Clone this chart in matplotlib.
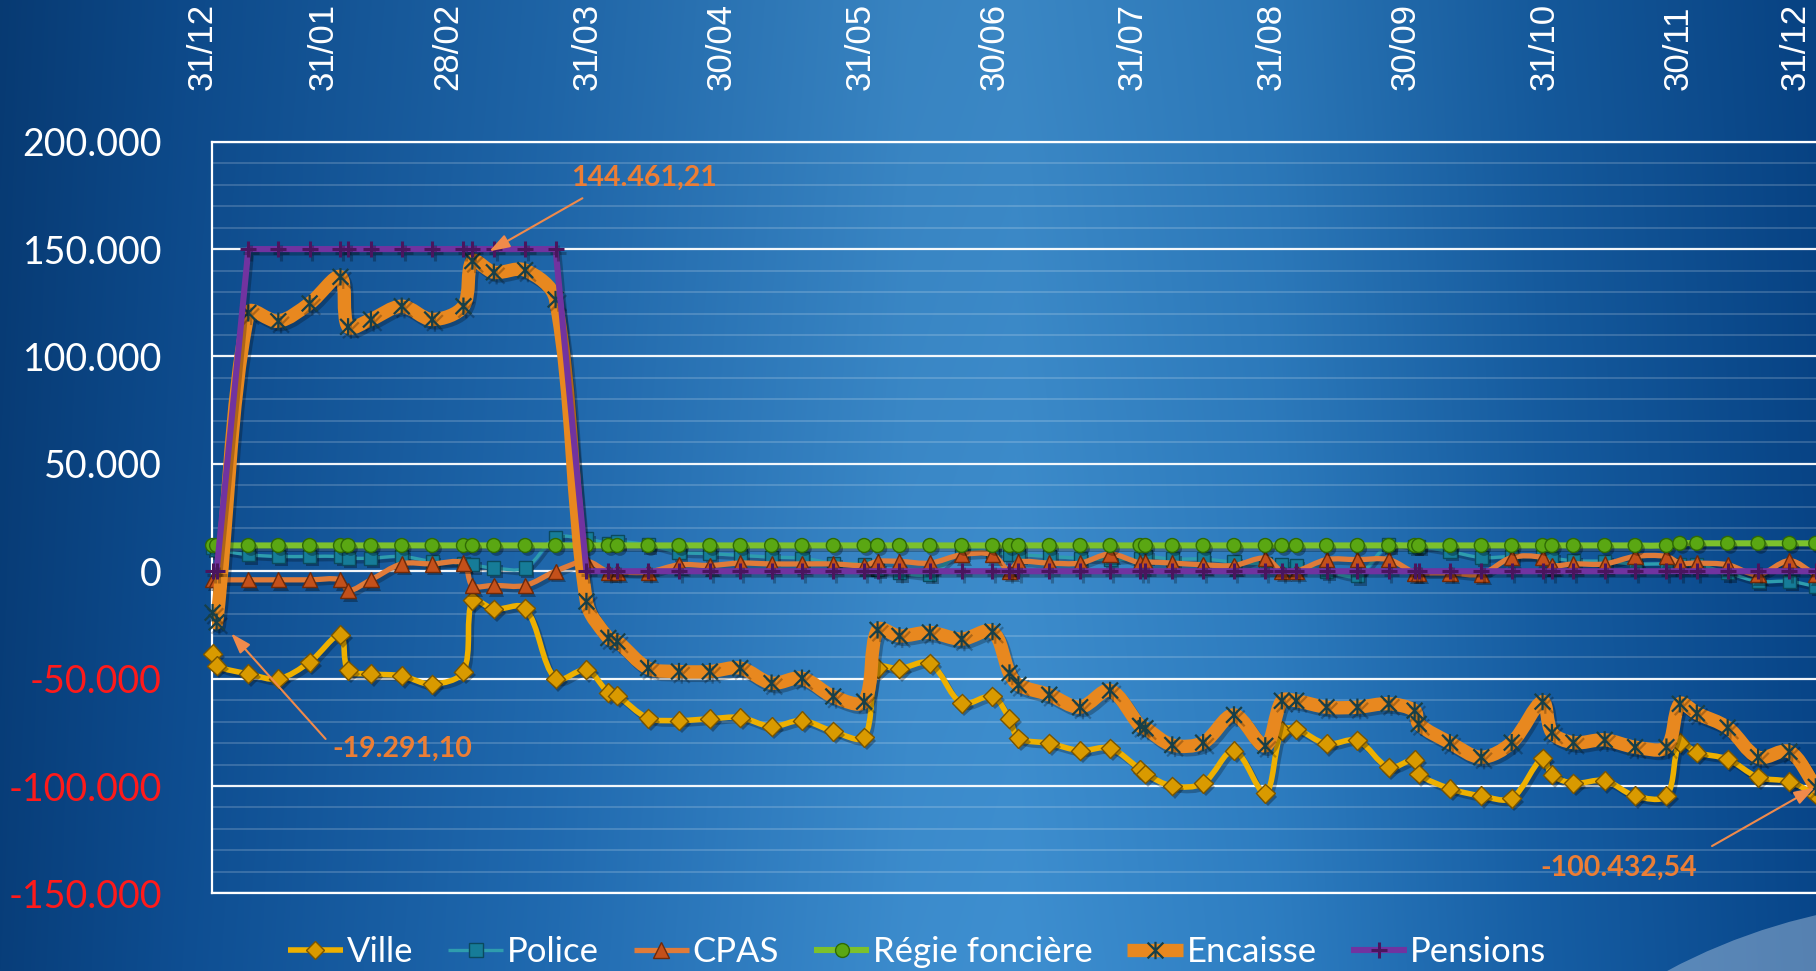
import numpy as np
import matplotlib
matplotlib.use("Agg")
import matplotlib.pyplot as plt
from matplotlib.path import Path
from matplotlib.patches import PathPatch, Ellipse
from matplotlib.lines import Line2D
from matplotlib.ticker import MultipleLocator
import matplotlib.patheffects as pe

# ---------------- data (day offset from 31/12, values in EUR) ----------------
days = [6.3, 7.2, 14.3, 21.0, 28.0, 34.9, 36.6, 41.7, 48.6, 55.4,
        62.4, 64.4, 69.2, 76.2, 83.0, 89.9, 94.8, 96.8, 103.7, 110.6,
        117.5, 124.3, 131.3, 138.1, 145.1, 152.0, 155.0, 159.9, 166.7, 173.8,
        180.7, 184.5, 186.5, 193.4, 200.3, 207.0, 213.7, 214.9, 220.9, 227.8,
        234.7, 241.7, 245.4, 248.6, 255.4, 262.3, 269.3, 275.1, 276.0, 283.0,
        290.0, 296.8, 303.7, 305.8, 310.6, 317.6, 324.4, 331.4, 334.4, 338.2,
        345.1, 351.9, 358.9, 364.8]

ville = [-38400, -43900, -47800, -50100, -42300, -29600, -46200, -47800, -48700, -52600,
         -46700, -13600, -17600, -17200, -50100, -45900, -56500, -57900, -68400, -69500,
         -68700, -68100, -72300, -69500, -74600, -77300, -45100, -45400, -42800, -61400,
         -58300, -68700, -77700, -80100, -83500, -82400, -92200, -94400, -100000, -98700,
         -83500, -103400, -74200, -73500, -80400, -78800, -91300, -87800, -94400, -101200,
         -104600, -105700, -87000, -94800, -98700, -97500, -104600, -104600, -79800, -84400,
         -87500, -95900, -98000, -104000]

police = [11000, 10000, 7700, 6900, 6900, 6900, 6100, 6100, 6900, 4600,
          3800, 3000, 1500, 1500, 15500, 15100, 13100, 13900, 12300, 8900,
          8200, 7400, 6600, 6100, 3800, 3300, 1000, -800, -1300, 9000,
          9000, 7700, 7700, 6900, 6100, 5400, 6100, 6900, 5700, 5700,
          4300, 3400, 3000, 2700, 0, -2000, 12300, 11600, 11600, 9200,
          6400, 6900, 6900, 6100, 4900, 4600, 3400, 3400, 3000, 3000,
          -800, -4700, -4700, -7100]

cpas = [-4000, -4000, -4000, -4000, -4000, -4000, -9100, -4000, 3400, 3400,
        3800, -6600, -6600, -6600, 0, 4600, -400, -400, -400, 3000,
        2700, 3800, 3400, 3400, 3400, 2700, 4600, 4600, 3800, 7700,
        7700, 0, 4300, 3800, 3800, 8000, 3800, 4300, 3800, 3000,
        2700, 6100, 0, 0, 5400, 5400, 5400, -800, -800, -800,
        -1300, 6400, 6400, 2700, 3400, 3400, 6900, 6900, 3800, 3800,
        3000, -1600, 4900, -1600]

regie = [12000, 12000, 12000, 12000, 12000, 12000, 12000, 12000, 12000, 12000,
         12000, 12000, 12000, 12000, 12000, 12000, 12000, 12000, 12000, 12000,
         12000, 12000, 12000, 12000, 12000, 12000, 12000, 12000, 12000, 12000,
         12000, 12000, 12000, 12000, 12000, 12000, 12000, 12000, 12000, 12000,
         12000, 12000, 12000, 12000, 12000, 12000, 12000, 12000, 12000, 12000,
         12000, 12000, 12000, 12000, 12000, 12000, 12000, 12000, 13000, 13000,
         13000, 13000, 13000, 13000]

encaisse = [-19291.10, -23800, 120300, 116400, 124700, 137100, 113800, 117200, 123400, 117200,
            123400, 144461.21, 139200, 140200, 126500, -14100, -31100, -32700, -45100, -46700,
            -46700, -45100, -52100, -49800, -58300, -60700, -27300, -30100, -28500, -31600,
            -28100, -47400, -52900, -57500, -63300, -55500, -72000, -73100, -80900, -79800,
            -66900, -81300, -60300, -60300, -63300, -63300, -61700, -64900, -71100, -79800,
            -86600, -79800, -60700, -75100, -79800, -78500, -81900, -81900, -61700, -66100,
            -72800, -86600, -84000, -100432.54]

pensions = [0, 0, 150000, 150000, 150000, 150000, 150000, 150000, 150000, 150000,
            150000, 150000, 150000, 150000, 150000, 0, 0, 0, 0, 0,
            0, 0, 0, 0, 0, 0, 0, 0, 0, 0,
            0, 0, 0, 0, 0, 0, 0, 0, 0, 0,
            0, 0, 0, 0, 0, 0, 0, 0, 0, 0,
            0, 0, 0, 0, 0, 0, 0, 0, 0, 0,
            0, 0, 0, 0]

series_names = ["Ville", "Police", "CPAS", "Régie foncière", "Encaisse", "Pensions"]
month_labels = ["31/12", "31/01", "28/02", "31/03", "30/04", "31/05", "30/06",
                "31/07", "31/08", "30/09", "31/10", "30/11", "31/12"]
month_days = [0, 31, 59, 90, 120, 151, 181, 212, 243, 273, 304, 334, 365]
y_ticks = [-150000, -100000, -50000, 0, 50000, 100000, 150000, 200000]
annotated = [0, 11, 63]   # indices of Encaisse points with value call-outs

# ---------------- figure ----------------
W, H = 1816, 971
fig = plt.figure(figsize=(W / 100, H / 100), dpi=100)

# background gradient
bg = fig.add_axes([0, 0, 1, 1], zorder=-10)
bg.set_axis_off()
stops = [0.0, 0.10, 0.30, 0.50, 0.56, 0.70, 0.85, 1.0]
cols = np.array([(8, 62, 122), (14, 78, 146), (32, 106, 176), (60, 140, 205),
                 (62, 143, 208), (46, 126, 194), (22, 94, 164), (8, 70, 138)]) / 255.0
gx = np.linspace(0, 1, 900)
grad = np.stack([np.interp(gx, stops, cols[:, c]) for c in range(3)], axis=-1)
gy = np.linspace(0, 1, 200)
img = grad[None, :, :] * (0.94 + 0.06 * gy[:, None, None])
bg.imshow(np.clip(img, 0, 1), extent=[0, 1, 0, 1], aspect="auto", origin="upper",
          interpolation="bilinear")
bg.set_xlim(0, 1)
bg.set_ylim(0, 1)
bg.add_patch(Ellipse((1950 / W, 1 - 1500 / H), 1200 / W, 1200 / H, transform=bg.transAxes,
                     facecolor=(0.80, 0.86, 0.93), alpha=0.40, edgecolor="none"))

# main axes
ax = fig.add_axes([212 / W, (H - 893.4) / H, 1 - 212 / W, (893.4 - 141.7) / H])
ax.set_facecolor("none")
ax.set_xlim((212 - 184.4) / 4.472, (1816 - 184.4) / 4.472)
ax.set_ylim(-150000, 200000)


def fmt(v):
    return f"{v:,.0f}".replace(",", ".")


def fmt2(v):
    return f"{v:,.2f}".replace(",", "X").replace(".", ",").replace("X", ".")


ax.set_xticks([])
ax.set_yticks(y_ticks, labels=[fmt(v) for v in y_ticks])
ax.yaxis.set_minor_locator(MultipleLocator(10000))
ax.tick_params(axis="y", which="both", length=0, pad=36)
for v, lbl in zip(y_ticks, ax.get_yticklabels()):
    lbl.set_fontfamily(["Lato", "DejaVu Sans"])
    lbl.set_fontsize(27)
    lbl.set_color("#FF1A1A" if v < 0 else "white")

ax.set_axisbelow(True)
ax.grid(which="major", axis="y", color="white", lw=1.6, alpha=0.95)
ax.grid(which="minor", axis="y", color="white", lw=1.2, alpha=0.20)
for s in ["left", "top", "bottom"]:
    ax.spines[s].set_color("white")
    ax.spines[s].set_linewidth(1.6)
ax.spines["right"].set_visible(False)

# date labels on top (edge labels kept inside the chart, as in the original)
label_x = list(month_days)
label_x[0] = 3.9
label_x[-1] = 360.2
for d, lab in zip(label_x, month_labels):
    ax.text(d, 1.0688, lab, transform=ax.get_xaxis_transform(), rotation=90,
            ha="center", va="bottom", color="white", fontsize=25,
            family=["Liberation Sans", "DejaVu Sans"], clip_on=False)


def smooth_path(xs, ys, f=1.0 / 3.0):
    pts = ax.transData.transform(np.column_stack([xs, ys]))
    n = len(pts)
    verts = [pts[0]]
    codes = [Path.MOVETO]
    for i in range(n - 1):
        p0, p1 = pts[i], pts[i + 1]
        d_cur = np.hypot(*(p1 - p0))
        if i > 0:
            prev = pts[i - 1]
            d_prev = np.hypot(*(p0 - prev))
            c1 = p0 + (p1 - prev) * f * d_cur / max(d_prev + d_cur, 1e-9)
        else:
            c1 = p0 + (p1 - p0) / 3.0
        if i + 2 < n:
            nxt = pts[i + 2]
            d_next = np.hypot(*(nxt - p1))
            c2 = p1 - (nxt - p0) * f * d_cur / max(d_cur + d_next, 1e-9)
        else:
            c2 = p1 - (p1 - p0) / 3.0
        verts += [c1, c2, p1]
        codes += [Path.CURVE4] * 3
    verts = ax.transData.inverted().transform(np.array(verts))
    return Path(verts, codes)


star = Path([(-1, -1), (1, 1), (-1, 1), (1, -1), (0, -1.1), (0, 1.1)],
            [Path.MOVETO, Path.LINETO, Path.MOVETO, Path.LINETO, Path.MOVETO, Path.LINETO])

styles = [
    dict(y=ville, color="#EEB000", lw=4.0, smooth=True, marker="D", ms=9.6,
         mfc="#D99A00", mec="#7A5500", mew=1.0),
    dict(y=police, color="#2E9DAE", lw=2.4, smooth=True, marker="s", ms=9.4,
         mfc="#167C98", mec="#0B4A5E", mew=1.0),
    dict(y=cpas, color="#E07B39", lw=3.8, smooth=True, marker="^", ms=11.0,
         mfc="#C4501A", mec="#6E2A0A", mew=1.0),
    dict(y=regie, color="#7CC12C", lw=4.4, smooth=True, marker="o", ms=10.0,
         mfc="#5AA713", mec="#2F6A05", mew=1.0),
    dict(y=encaisse, color="#E8881F", lw=9.6, smooth=True, marker=star, ms=12.5,
         mfc="none", mec="#173F48", mew=1.6),
    dict(y=pensions, color="#7133A0", lw=4.4, smooth=False, marker="+", ms=11.5,
         mfc="none", mec="#4A155E", mew=2.2),
]

line_shadow = [pe.SimpleLineShadow(offset=(2, -2.5), shadow_color="black", alpha=0.25), pe.Normal()]
fill_shadow = [pe.SimplePatchShadow(offset=(2, -2.5), shadow_rgbFace="black", alpha=0.30), pe.Normal()]

handles = []
for k, (name, st) in enumerate(zip(series_names, styles)):
    z = 3 + 2 * k
    if st["smooth"]:
        path = smooth_path(days, st["y"])
    else:
        path = Path(np.column_stack([days, st["y"]]))
    patch = PathPatch(path, facecolor="none", edgecolor=st["color"], lw=st["lw"],
                      capstyle="round", joinstyle="round", transform=ax.transData,
                      zorder=z, path_effects=line_shadow)
    ax.add_patch(patch)
    filled = st["mfc"] != "none"
    ax.plot(days, st["y"], linestyle="none", marker=st["marker"], ms=st["ms"],
            mfc=st["mfc"], mec=st["mec"], mew=st["mew"], zorder=z + 1, clip_on=False,
            path_effects=fill_shadow if filled else line_shadow)
    handles.append(Line2D([], [], color=st["color"], lw=st["lw"], marker=st["marker"],
                          ms=st["ms"], mfc=st["mfc"], mec=st["mec"], mew=st["mew"],
                          solid_capstyle="butt"))

leg = fig.legend(handles, series_names, loc="center", bbox_to_anchor=(0.505, 0.0196),
                 ncol=6, frameon=False, handlelength=1.6, handletextpad=0.1,
                 columnspacing=1.0, borderaxespad=0,
                 prop=dict(family=["Lato", "DejaVu Sans"], size=25))
for t in leg.get_texts():
    t.set_color("white")

# call-outs
ann_color = "#EC7E35"
ann_specs = {0: dict(off=(136.4, -98.4), relpos=(0.0, 0.62), shrinkA=4, shrinkB=20),
             11: dict(off=(123.6, 59.5), relpos=(0.16, 0.0), shrinkA=6, shrinkB=14),
             63: dict(off=(-141.8, -58.0), relpos=(1.0, 1.0), shrinkA=10, shrinkB=1)}
for i in annotated:
    sp = ann_specs[i]
    ax.annotate(fmt2(encaisse[i]), xy=(days[i], encaisse[i]), xytext=sp["off"],
                textcoords="offset points", ha="center", va="center",
                color=ann_color, fontsize=20.5, fontweight="bold",
                family=["Lato", "DejaVu Sans"], zorder=30, annotation_clip=False,
                arrowprops=dict(arrowstyle="-|>,head_length=0.6,head_width=0.2",
                                color="#F08A4B", lw=1.5, relpos=sp["relpos"],
                                shrinkA=sp["shrinkA"], shrinkB=sp["shrinkB"]))

fig.savefig("out.png", dpi=100)
